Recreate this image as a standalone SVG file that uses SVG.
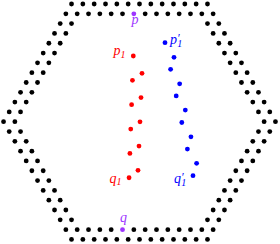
<svg xmlns="http://www.w3.org/2000/svg" width="280" height="244" viewBox="0 0 280 244">
<style>
.k circle{fill:#000}
.r circle{fill:#ff0000}
.b circle{fill:#0000ff}
.v{fill:#9d35ff}
text{font-family:"Liberation Serif","DejaVu Serif",serif;font-style:italic;font-size:14px}
.s{font-size:10px}
.pr{font-size:12px}
</style>
<rect width="280" height="244" fill="#fff"/>
<g id="ring" class="k">
<g id="row0">
<circle cx="71.52" cy="4" r="2.4"/><circle cx="82.85" cy="4" r="2.4"/><circle cx="94.18" cy="4" r="2.4"/><circle cx="105.51" cy="4" r="2.4"/><circle cx="116.84" cy="4" r="2.4"/><circle cx="128.17" cy="4" r="2.4"/><circle cx="139.5" cy="4" r="2.4"/><circle cx="150.83" cy="4" r="2.4"/><circle cx="162.16" cy="4" r="2.4"/><circle cx="173.49" cy="4" r="2.4"/><circle cx="184.82" cy="4" r="2.4"/><circle cx="196.15" cy="4" r="2.4"/><circle cx="207.48" cy="4" r="2.4"/>
</g>
<g id="row1">
<circle cx="65.86" cy="13.81" r="2.4"/><circle cx="77.19" cy="13.81" r="2.4"/><circle cx="88.52" cy="13.81" r="2.4"/><circle cx="99.85" cy="13.81" r="2.4"/><circle cx="111.18" cy="13.81" r="2.4"/><circle cx="122.51" cy="13.81" r="2.4"/><circle cx="145.17" cy="13.81" r="2.4"/><circle cx="156.5" cy="13.81" r="2.4"/><circle cx="167.83" cy="13.81" r="2.4"/><circle cx="179.16" cy="13.81" r="2.4"/><circle cx="190.49" cy="13.81" r="2.4"/><circle cx="201.82" cy="13.81" r="2.4"/><circle cx="213.14" cy="13.81" r="2.4"/>
</g>
<g id="sides">
<circle cx="60.19" cy="23.62" r="2.4"/><circle cx="71.52" cy="23.62" r="2.4"/><circle cx="207.48" cy="23.62" r="2.4"/><circle cx="218.81" cy="23.62" r="2.4"/>
<circle cx="54.53" cy="33.43" r="2.4"/><circle cx="65.86" cy="33.43" r="2.4"/><circle cx="213.14" cy="33.43" r="2.4"/><circle cx="224.47" cy="33.43" r="2.4"/>
<circle cx="48.86" cy="43.24" r="2.4"/><circle cx="60.19" cy="43.24" r="2.4"/><circle cx="218.81" cy="43.24" r="2.4"/><circle cx="230.14" cy="43.24" r="2.4"/>
<circle cx="43.2" cy="53.05" r="2.4"/><circle cx="54.53" cy="53.05" r="2.4"/><circle cx="224.47" cy="53.05" r="2.4"/><circle cx="235.8" cy="53.05" r="2.4"/>
<circle cx="37.53" cy="62.86" r="2.4"/><circle cx="48.86" cy="62.86" r="2.4"/><circle cx="230.14" cy="62.86" r="2.4"/><circle cx="241.47" cy="62.86" r="2.4"/>
<circle cx="31.87" cy="72.67" r="2.4"/><circle cx="43.2" cy="72.67" r="2.4"/><circle cx="235.8" cy="72.67" r="2.4"/><circle cx="247.13" cy="72.67" r="2.4"/>
<circle cx="26.2" cy="82.48" r="2.4"/><circle cx="37.53" cy="82.48" r="2.4"/><circle cx="241.47" cy="82.48" r="2.4"/><circle cx="252.8" cy="82.48" r="2.4"/>
<circle cx="20.54" cy="92.29" r="2.4"/><circle cx="31.87" cy="92.29" r="2.4"/><circle cx="247.13" cy="92.29" r="2.4"/><circle cx="258.46" cy="92.29" r="2.4"/>
<circle cx="14.87" cy="102.1" r="2.4"/><circle cx="26.2" cy="102.1" r="2.4"/><circle cx="252.8" cy="102.1" r="2.4"/><circle cx="264.13" cy="102.1" r="2.4"/>
<circle cx="9.21" cy="111.91" r="2.4"/><circle cx="20.54" cy="111.91" r="2.4"/><circle cx="258.46" cy="111.91" r="2.4"/><circle cx="269.79" cy="111.91" r="2.4"/>
<circle cx="3.54" cy="121.72" r="2.4"/><circle cx="14.87" cy="121.72" r="2.4"/><circle cx="264.13" cy="121.72" r="2.4"/><circle cx="275.46" cy="121.72" r="2.4"/>
<circle cx="9.21" cy="131.53" r="2.4"/><circle cx="20.54" cy="131.53" r="2.4"/><circle cx="258.46" cy="131.53" r="2.4"/><circle cx="269.79" cy="131.53" r="2.4"/>
<circle cx="14.87" cy="141.34" r="2.4"/><circle cx="26.2" cy="141.34" r="2.4"/><circle cx="252.8" cy="141.34" r="2.4"/><circle cx="264.13" cy="141.34" r="2.4"/>
<circle cx="20.54" cy="151.15" r="2.4"/><circle cx="31.87" cy="151.15" r="2.4"/><circle cx="247.13" cy="151.15" r="2.4"/><circle cx="258.46" cy="151.15" r="2.4"/>
<circle cx="26.2" cy="160.96" r="2.4"/><circle cx="37.53" cy="160.96" r="2.4"/><circle cx="241.47" cy="160.96" r="2.4"/><circle cx="252.8" cy="160.96" r="2.4"/>
<circle cx="31.87" cy="170.77" r="2.4"/><circle cx="43.2" cy="170.77" r="2.4"/><circle cx="235.8" cy="170.77" r="2.4"/><circle cx="247.13" cy="170.77" r="2.4"/>
<circle cx="37.53" cy="180.58" r="2.4"/><circle cx="48.86" cy="180.58" r="2.4"/><circle cx="230.14" cy="180.58" r="2.4"/><circle cx="241.47" cy="180.58" r="2.4"/>
<circle cx="43.2" cy="190.39" r="2.4"/><circle cx="54.53" cy="190.39" r="2.4"/><circle cx="224.47" cy="190.39" r="2.4"/><circle cx="235.8" cy="190.39" r="2.4"/>
<circle cx="48.86" cy="200.2" r="2.4"/><circle cx="60.19" cy="200.2" r="2.4"/><circle cx="218.81" cy="200.2" r="2.4"/><circle cx="230.14" cy="200.2" r="2.4"/>
<circle cx="54.53" cy="210.01" r="2.4"/><circle cx="65.86" cy="210.01" r="2.4"/><circle cx="213.14" cy="210.01" r="2.4"/><circle cx="224.47" cy="210.01" r="2.4"/>
<circle cx="60.19" cy="219.82" r="2.4"/><circle cx="71.52" cy="219.82" r="2.4"/><circle cx="207.48" cy="219.82" r="2.4"/><circle cx="218.81" cy="219.82" r="2.4"/>
</g>
<g id="row23">
<circle cx="65.86" cy="229.63" r="2.4"/><circle cx="77.19" cy="229.63" r="2.4"/><circle cx="88.52" cy="229.63" r="2.4"/><circle cx="99.85" cy="229.63" r="2.4"/><circle cx="111.18" cy="229.63" r="2.4"/><circle cx="133.84" cy="229.63" r="2.4"/><circle cx="145.17" cy="229.63" r="2.4"/><circle cx="156.5" cy="229.63" r="2.4"/><circle cx="167.83" cy="229.63" r="2.4"/><circle cx="179.16" cy="229.63" r="2.4"/><circle cx="190.49" cy="229.63" r="2.4"/><circle cx="201.82" cy="229.63" r="2.4"/><circle cx="213.14" cy="229.63" r="2.4"/>
</g>
<g id="row24">
<circle cx="71.52" cy="239.44" r="2.4"/><circle cx="82.85" cy="239.44" r="2.4"/><circle cx="94.18" cy="239.44" r="2.4"/><circle cx="105.51" cy="239.44" r="2.4"/><circle cx="116.84" cy="239.44" r="2.4"/><circle cx="128.17" cy="239.44" r="2.4"/><circle cx="139.5" cy="239.44" r="2.4"/><circle cx="150.83" cy="239.44" r="2.4"/><circle cx="162.16" cy="239.44" r="2.4"/><circle cx="173.49" cy="239.44" r="2.4"/><circle cx="184.82" cy="239.44" r="2.4"/><circle cx="196.15" cy="239.44" r="2.4"/><circle cx="207.48" cy="239.44" r="2.4"/>
</g>
</g>
<g id="p">
<circle class="v" cx="133.84" cy="13.81" r="2.4"/>
<text class="v" x="131.5" y="23.6">p</text>
</g>
<g id="q">
<circle class="v" cx="122.51" cy="229.63" r="2.4"/>
<text class="v" x="120" y="222.3">q</text>
</g>
<g id="red" class="r">
<circle cx="133.3" cy="56" r="2.4"/><circle cx="142" cy="73.3" r="2.4"/><circle cx="132.45" cy="80.35" r="2.4"/><circle cx="141" cy="97.55" r="2.4"/><circle cx="131.6" cy="104.7" r="2.4"/><circle cx="140" cy="121.8" r="2.4"/><circle cx="130.75" cy="129.05" r="2.4"/><circle cx="139" cy="146.05" r="2.4"/><circle cx="129.9" cy="153.4" r="2.4"/><circle cx="138" cy="170.3" r="2.4"/><circle cx="129.05" cy="177.75" r="2.4"/>
</g>
<g id="blue" class="b">
<circle cx="165" cy="42.7" r="2.4"/><circle cx="174" cy="57.3" r="2.4"/><circle cx="170.6" cy="69.3" r="2.4"/><circle cx="179.65" cy="83.8" r="2.4"/><circle cx="176.2" cy="95.9" r="2.4"/><circle cx="185.3" cy="110.1" r="2.4"/><circle cx="181.8" cy="122.5" r="2.4"/><circle cx="190.95" cy="136.8" r="2.4"/><circle cx="187.4" cy="149.1" r="2.4"/><circle cx="196.6" cy="163.3" r="2.4"/><circle cx="193" cy="175.7" r="2.4"/>
</g>
<g id="labels">
<text x="113.5" y="55" fill="#ff0000">p<tspan class="s" dy="2.5">1</tspan></text>
<text x="109.5" y="182.5" fill="#ff0000">q<tspan class="s" dy="2.5">1</tspan></text>
<text x="170" y="43.5" fill="#0000ff">p<tspan class="pr" dy="-2">′</tspan><tspan class="s" x="177.3" dy="5">1</tspan></text>
<text x="174" y="183.3" fill="#0000ff">q<tspan class="pr" dy="-2">′</tspan><tspan class="s" x="181.3" dy="5">1</tspan></text>
</g>
</svg>
